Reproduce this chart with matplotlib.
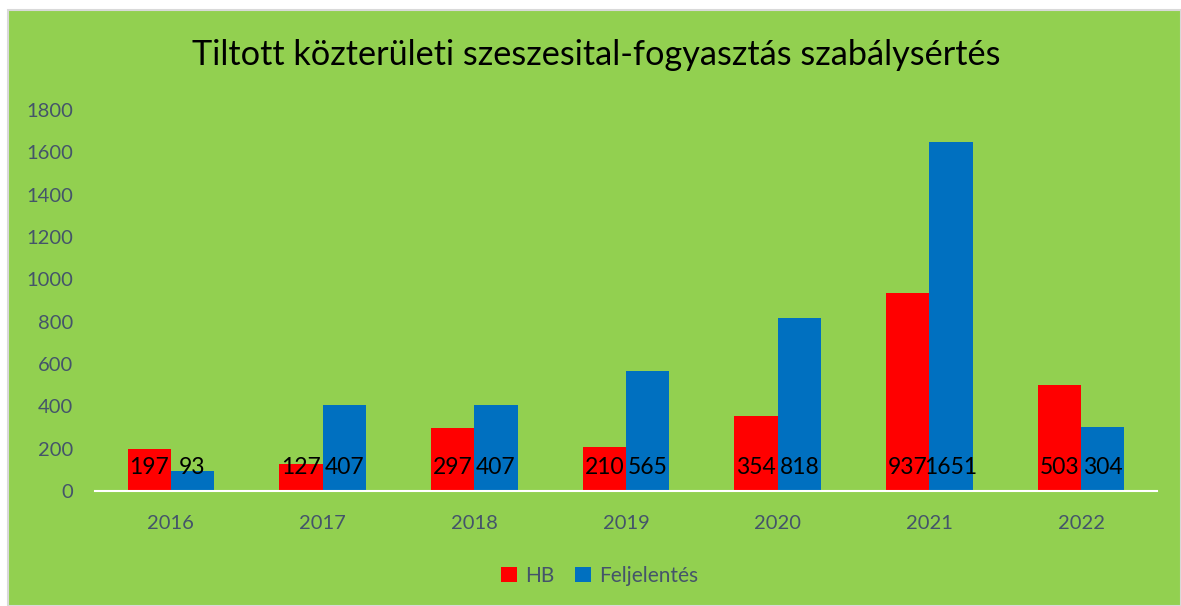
import matplotlib.pyplot as plt
import numpy as np
from matplotlib.patches import Rectangle

years = ['2016', '2017', '2018', '2019', '2020', '2021', '2022']
hb = [197, 127, 297, 210, 354, 937, 503]
feljelentes = [93, 407, 407, 565, 818, 1651, 304]

plt.rcParams['font.family'] = ['Lato', 'DejaVu Sans']
green = '#92D050'
text_grey = '#44546A'

fig = plt.figure(figsize=(11.81, 6.06), dpi=100)
fig.patch.set_facecolor('white')
# zöld háttér keret
fig.patches.append(Rectangle((8 / 1181, 0), 1 - 8 / 1181, 1 - 10 / 606,
                             transform=fig.transFigure, facecolor=green,
                             edgecolor='#D9D9D9', lw=1.5, zorder=-5))

ax = fig.add_axes([95 / 1181, 1 - 491 / 606, 1062 / 1181, 381 / 606])
ax.set_facecolor('none')
ax.set_zorder(2)

x = np.arange(len(years))
w = 0.285
b1 = ax.bar(x - w / 2, hb, w, color='#FF0000', label='HB')
b2 = ax.bar(x + w / 2, feljelentes, w, color='#0070C0', label='Feljelentés')

for bars, vals in ((b1, hb), (b2, feljelentes)):
    for r, v in zip(bars, vals):
        ax.annotate(str(v), (r.get_x() + r.get_width() / 2, 0),
                    xytext=(0, 12), textcoords='offset points',
                    ha='center', va='baseline', fontsize=16.5, color='black')

ax.set_xlim(-0.5, 6.5)
ax.set_ylim(0, 1800)
ax.set_yticks(range(0, 1801, 200))
ax.set_xticks(x)
ax.set_xticklabels(years)
for s in ['top', 'right', 'left']:
    ax.spines[s].set_visible(False)
ax.spines['bottom'].set_color('white')
ax.spines['bottom'].set_linewidth(1.5)
ax.tick_params(axis='y', length=0, pad=16, labelsize=14.5, labelcolor=text_grey)
ax.tick_params(axis='x', length=0, pad=17, labelsize=14.5, labelcolor=text_grey)

fig.text(0.505, 1 - 55 / 606, 'Tiltott közterületi szeszesital-fogyasztás szabálysértés',
         ha='center', va='center', fontsize=24.7, color='black')

fig.legend(loc='center', bbox_to_anchor=(0.508, 1 - 576 / 606), ncol=2,
           frameon=False, fontsize=15, handlelength=0.75, handleheight=0.75,
           handletextpad=0.4, columnspacing=1.0, labelcolor=text_grey)

fig.savefig('out.png', dpi=100, facecolor=fig.get_facecolor())
